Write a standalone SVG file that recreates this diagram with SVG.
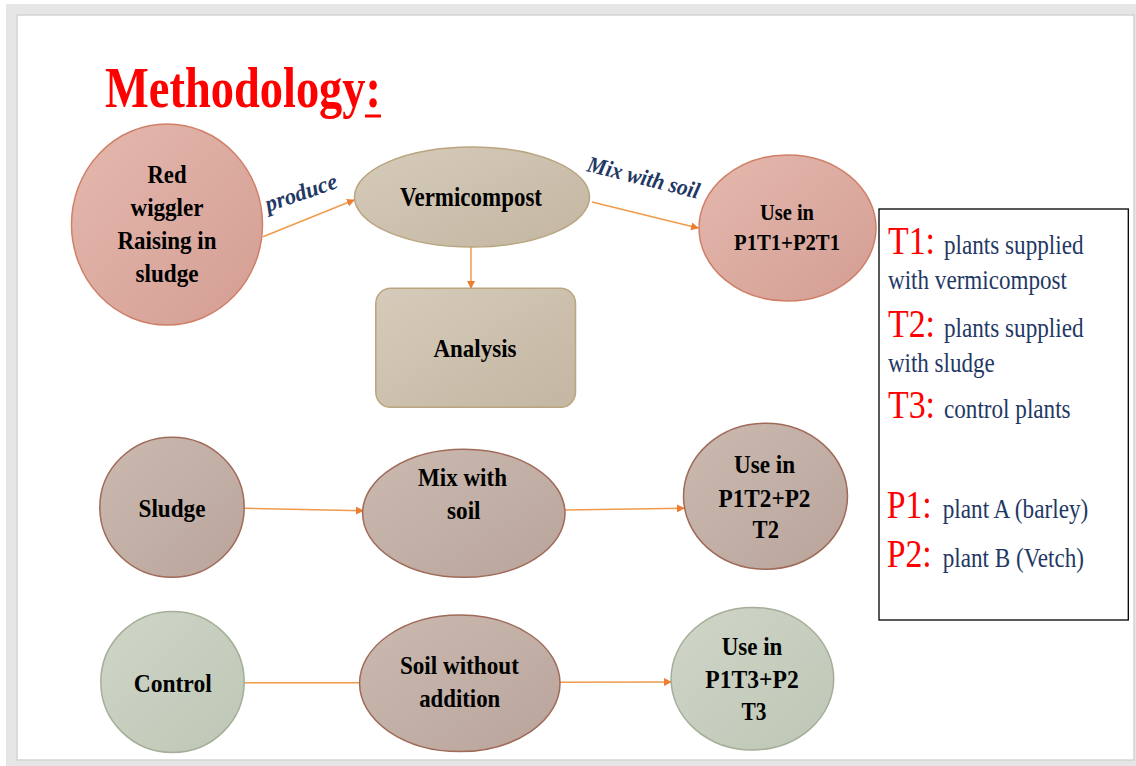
<svg xmlns="http://www.w3.org/2000/svg" width="1136" height="766" viewBox="0 0 1136 766">
<defs>
<linearGradient id="gRed" x1="0" y1="0" x2="1" y2="1"><stop offset="0" stop-color="#e4b8ae"/><stop offset="1" stop-color="#d49e93"/></linearGradient>
<linearGradient id="gTan" x1="0" y1="0" x2="1" y2="1"><stop offset="0" stop-color="#d6cbba"/><stop offset="1" stop-color="#c3b6a2"/></linearGradient>
<linearGradient id="gMauve" x1="0" y1="0" x2="1" y2="1"><stop offset="0" stop-color="#cbbab1"/><stop offset="1" stop-color="#b9a49a"/></linearGradient>
<linearGradient id="gSage" x1="0" y1="0" x2="1" y2="1"><stop offset="0" stop-color="#cfd6c8"/><stop offset="1" stop-color="#bec6b5"/></linearGradient>
<marker id="arr" markerUnits="userSpaceOnUse" markerWidth="8" markerHeight="8" refX="7" refY="4" orient="auto"><path d="M0,0 L8,4 L0,8 z" fill="#ed7d31"/></marker>
</defs>
<style>
.red{fill:url(#gRed);stroke:#d08068;stroke-width:1.5}
.tan{fill:url(#gTan);stroke:#b9a57f;stroke-width:1.5}
.mauve{fill:url(#gMauve);stroke:#a06a58;stroke-width:1.5}
.sage{fill:url(#gSage);stroke:#a4ae98;stroke-width:1.5}
.nt{font-family:"Liberation Serif","Times New Roman",serif;font-weight:bold;fill:#000;text-anchor:middle}
.lbl{font-family:"Liberation Serif","Times New Roman",serif;font-weight:bold;font-style:italic;fill:#1f3864;font-size:23px}
.leg{font-family:"Liberation Serif","Times New Roman",serif;fill:#1f3864;font-size:27px}
.key{font-family:"Liberation Serif","Times New Roman",serif;fill:#ff0000;font-size:40px}
.con{stroke:#f09a4a;stroke-width:1.5;fill:none}
</style>
<rect x="0" y="0" width="1136" height="766" fill="#ffffff"/>
<rect x="6" y="4" width="1130" height="762" fill="#e6e6e6"/>
<rect x="17" y="15" width="1117" height="745" fill="#ffffff" stroke="#d4d4d4" stroke-width="1.5"/>

<g id="title">
<text x="105" y="107" font-family="Liberation Serif, Times New Roman, serif" font-weight="bold" font-size="56" fill="#ff0000" textLength="276" lengthAdjust="spacingAndGlyphs">Methodology:</text>
<rect x="365" y="114.5" width="16" height="3" fill="#ff0000"/>
</g>

<g id="connectors">
<line class="con" x1="263" y1="236.7" x2="354" y2="200" marker-end="url(#arr)"/>
<line class="con" x1="471" y1="247" x2="471" y2="288" marker-end="url(#arr)"/>
<line class="con" x1="592" y1="202" x2="698" y2="228" marker-end="url(#arr)"/>
<line class="con" x1="245" y1="508.3" x2="363" y2="510.7" marker-end="url(#arr)"/>
<line class="con" x1="565" y1="510" x2="684" y2="508.3" marker-end="url(#arr)"/>
<line class="con" x1="244" y1="682.7" x2="360" y2="682.7"/>
<line class="con" x1="560" y1="682.3" x2="671" y2="682" marker-end="url(#arr)"/>
<text class="lbl" x="268" y="212" transform="rotate(-19 268 212)" textLength="75" lengthAdjust="spacingAndGlyphs">produce</text>
<text class="lbl" x="586" y="171" transform="rotate(14 586 171)" textLength="115" lengthAdjust="spacingAndGlyphs">Mix with soil</text>
</g>

<g id="red-wiggler">
<ellipse class="red" cx="167" cy="224.5" rx="95.5" ry="100.5"/>
<text class="nt" font-size="26" x="167" y="183" textLength="39" lengthAdjust="spacingAndGlyphs">Red</text>
<text class="nt" font-size="26" x="167" y="216" textLength="73" lengthAdjust="spacingAndGlyphs">wiggler</text>
<text class="nt" font-size="26" x="167" y="249" textLength="99" lengthAdjust="spacingAndGlyphs">Raising in</text>
<text class="nt" font-size="26" x="167" y="282" textLength="63" lengthAdjust="spacingAndGlyphs">sludge</text>
</g>

<g id="vermicompost">
<ellipse class="tan" cx="472" cy="197" rx="117.5" ry="50"/>
<text class="nt" font-size="26.5" x="471" y="206" textLength="142" lengthAdjust="spacingAndGlyphs">Vermicompost</text>
</g>

<g id="analysis">
<rect class="tan" x="375.8" y="288.3" width="199.7" height="119" rx="15" ry="15"/>
<text class="nt" font-size="26" x="475" y="357" textLength="83" lengthAdjust="spacingAndGlyphs">Analysis</text>
</g>

<g id="use-t1">
<ellipse class="red" cx="787.5" cy="228" rx="88.5" ry="73"/>
<text class="nt" font-size="23" x="787" y="220" textLength="54" lengthAdjust="spacingAndGlyphs">Use in</text>
<text class="nt" font-size="23" x="787" y="250" textLength="106" lengthAdjust="spacingAndGlyphs">P1T1+P2T1</text>
</g>

<g id="sludge">
<ellipse class="mauve" cx="172" cy="507.3" rx="72.2" ry="70"/>
<text class="nt" font-size="25" x="172" y="516.7" textLength="67" lengthAdjust="spacingAndGlyphs">Sludge</text>
</g>

<g id="mix-with-soil">
<ellipse class="mauve" cx="463.8" cy="513.3" rx="101.2" ry="64"/>
<text class="nt" font-size="25" x="462.5" y="485.7" textLength="89" lengthAdjust="spacingAndGlyphs">Mix with</text>
<text class="nt" font-size="25" x="463.8" y="519.3" textLength="33.5" lengthAdjust="spacingAndGlyphs">soil</text>
</g>

<g id="use-t2">
<ellipse class="mauve" cx="765.5" cy="496.3" rx="82" ry="73"/>
<text class="nt" font-size="25" x="764.5" y="472.7" textLength="61" lengthAdjust="spacingAndGlyphs">Use in</text>
<text class="nt" font-size="25" x="764.5" y="506.7" textLength="92" lengthAdjust="spacingAndGlyphs">P1T2+P2</text>
<text class="nt" font-size="25" x="765.8" y="538.3" textLength="26.4" lengthAdjust="spacingAndGlyphs">T2</text>
</g>

<g id="control">
<ellipse class="sage" cx="172.5" cy="682" rx="71.7" ry="70.5"/>
<text class="nt" font-size="25" x="172.7" y="691.7" textLength="78" lengthAdjust="spacingAndGlyphs">Control</text>
</g>

<g id="soil-without-addition">
<ellipse class="mauve" cx="459.8" cy="683.3" rx="100.2" ry="68.3"/>
<text class="nt" font-size="25" x="459.4" y="674" textLength="119" lengthAdjust="spacingAndGlyphs">Soil without</text>
<text class="nt" font-size="25" x="459.7" y="707.3" textLength="81" lengthAdjust="spacingAndGlyphs">addition</text>
</g>

<g id="use-t3">
<ellipse class="sage" cx="752.4" cy="678.7" rx="81.3" ry="71.3"/>
<text class="nt" font-size="25" x="752" y="655" textLength="60.7" lengthAdjust="spacingAndGlyphs">Use in</text>
<text class="nt" font-size="25" x="752" y="688.3" textLength="93.5" lengthAdjust="spacingAndGlyphs">P1T3+P2</text>
<text class="nt" font-size="25" x="754" y="720" textLength="25" lengthAdjust="spacingAndGlyphs">T3</text>
</g>

<g id="legend">
<rect x="879" y="209" width="249.3" height="411" fill="#ffffff" stroke="#000000" stroke-width="1.3"/>
<text class="key" x="888" y="254.3" textLength="47" lengthAdjust="spacingAndGlyphs">T1:</text>
<text class="leg" x="944" y="254.3" textLength="139.5" lengthAdjust="spacingAndGlyphs">plants supplied</text>
<text class="leg" x="888" y="289" textLength="179" lengthAdjust="spacingAndGlyphs">with vermicompost</text>
<text class="key" x="888" y="336.7" textLength="47" lengthAdjust="spacingAndGlyphs">T2:</text>
<text class="leg" x="944" y="336.7" textLength="139.5" lengthAdjust="spacingAndGlyphs">plants supplied</text>
<text class="leg" x="888" y="371.7" textLength="106.6" lengthAdjust="spacingAndGlyphs">with sludge</text>
<text class="key" x="888" y="418.3" textLength="47" lengthAdjust="spacingAndGlyphs">T3:</text>
<text class="leg" x="944" y="418.3" textLength="126.6" lengthAdjust="spacingAndGlyphs">control plants</text>
<text class="key" x="886.7" y="518.3" textLength="45" lengthAdjust="spacingAndGlyphs">P1:</text>
<text class="leg" x="942.7" y="518.3" font-size="25" textLength="145.6" lengthAdjust="spacingAndGlyphs">plant A (barley)</text>
<text class="key" x="886.7" y="566.7" textLength="45" lengthAdjust="spacingAndGlyphs">P2:</text>
<text class="leg" x="942.7" y="566.7" font-size="25" textLength="141.3" lengthAdjust="spacingAndGlyphs">plant B (Vetch)</text>
</g>
</svg>
